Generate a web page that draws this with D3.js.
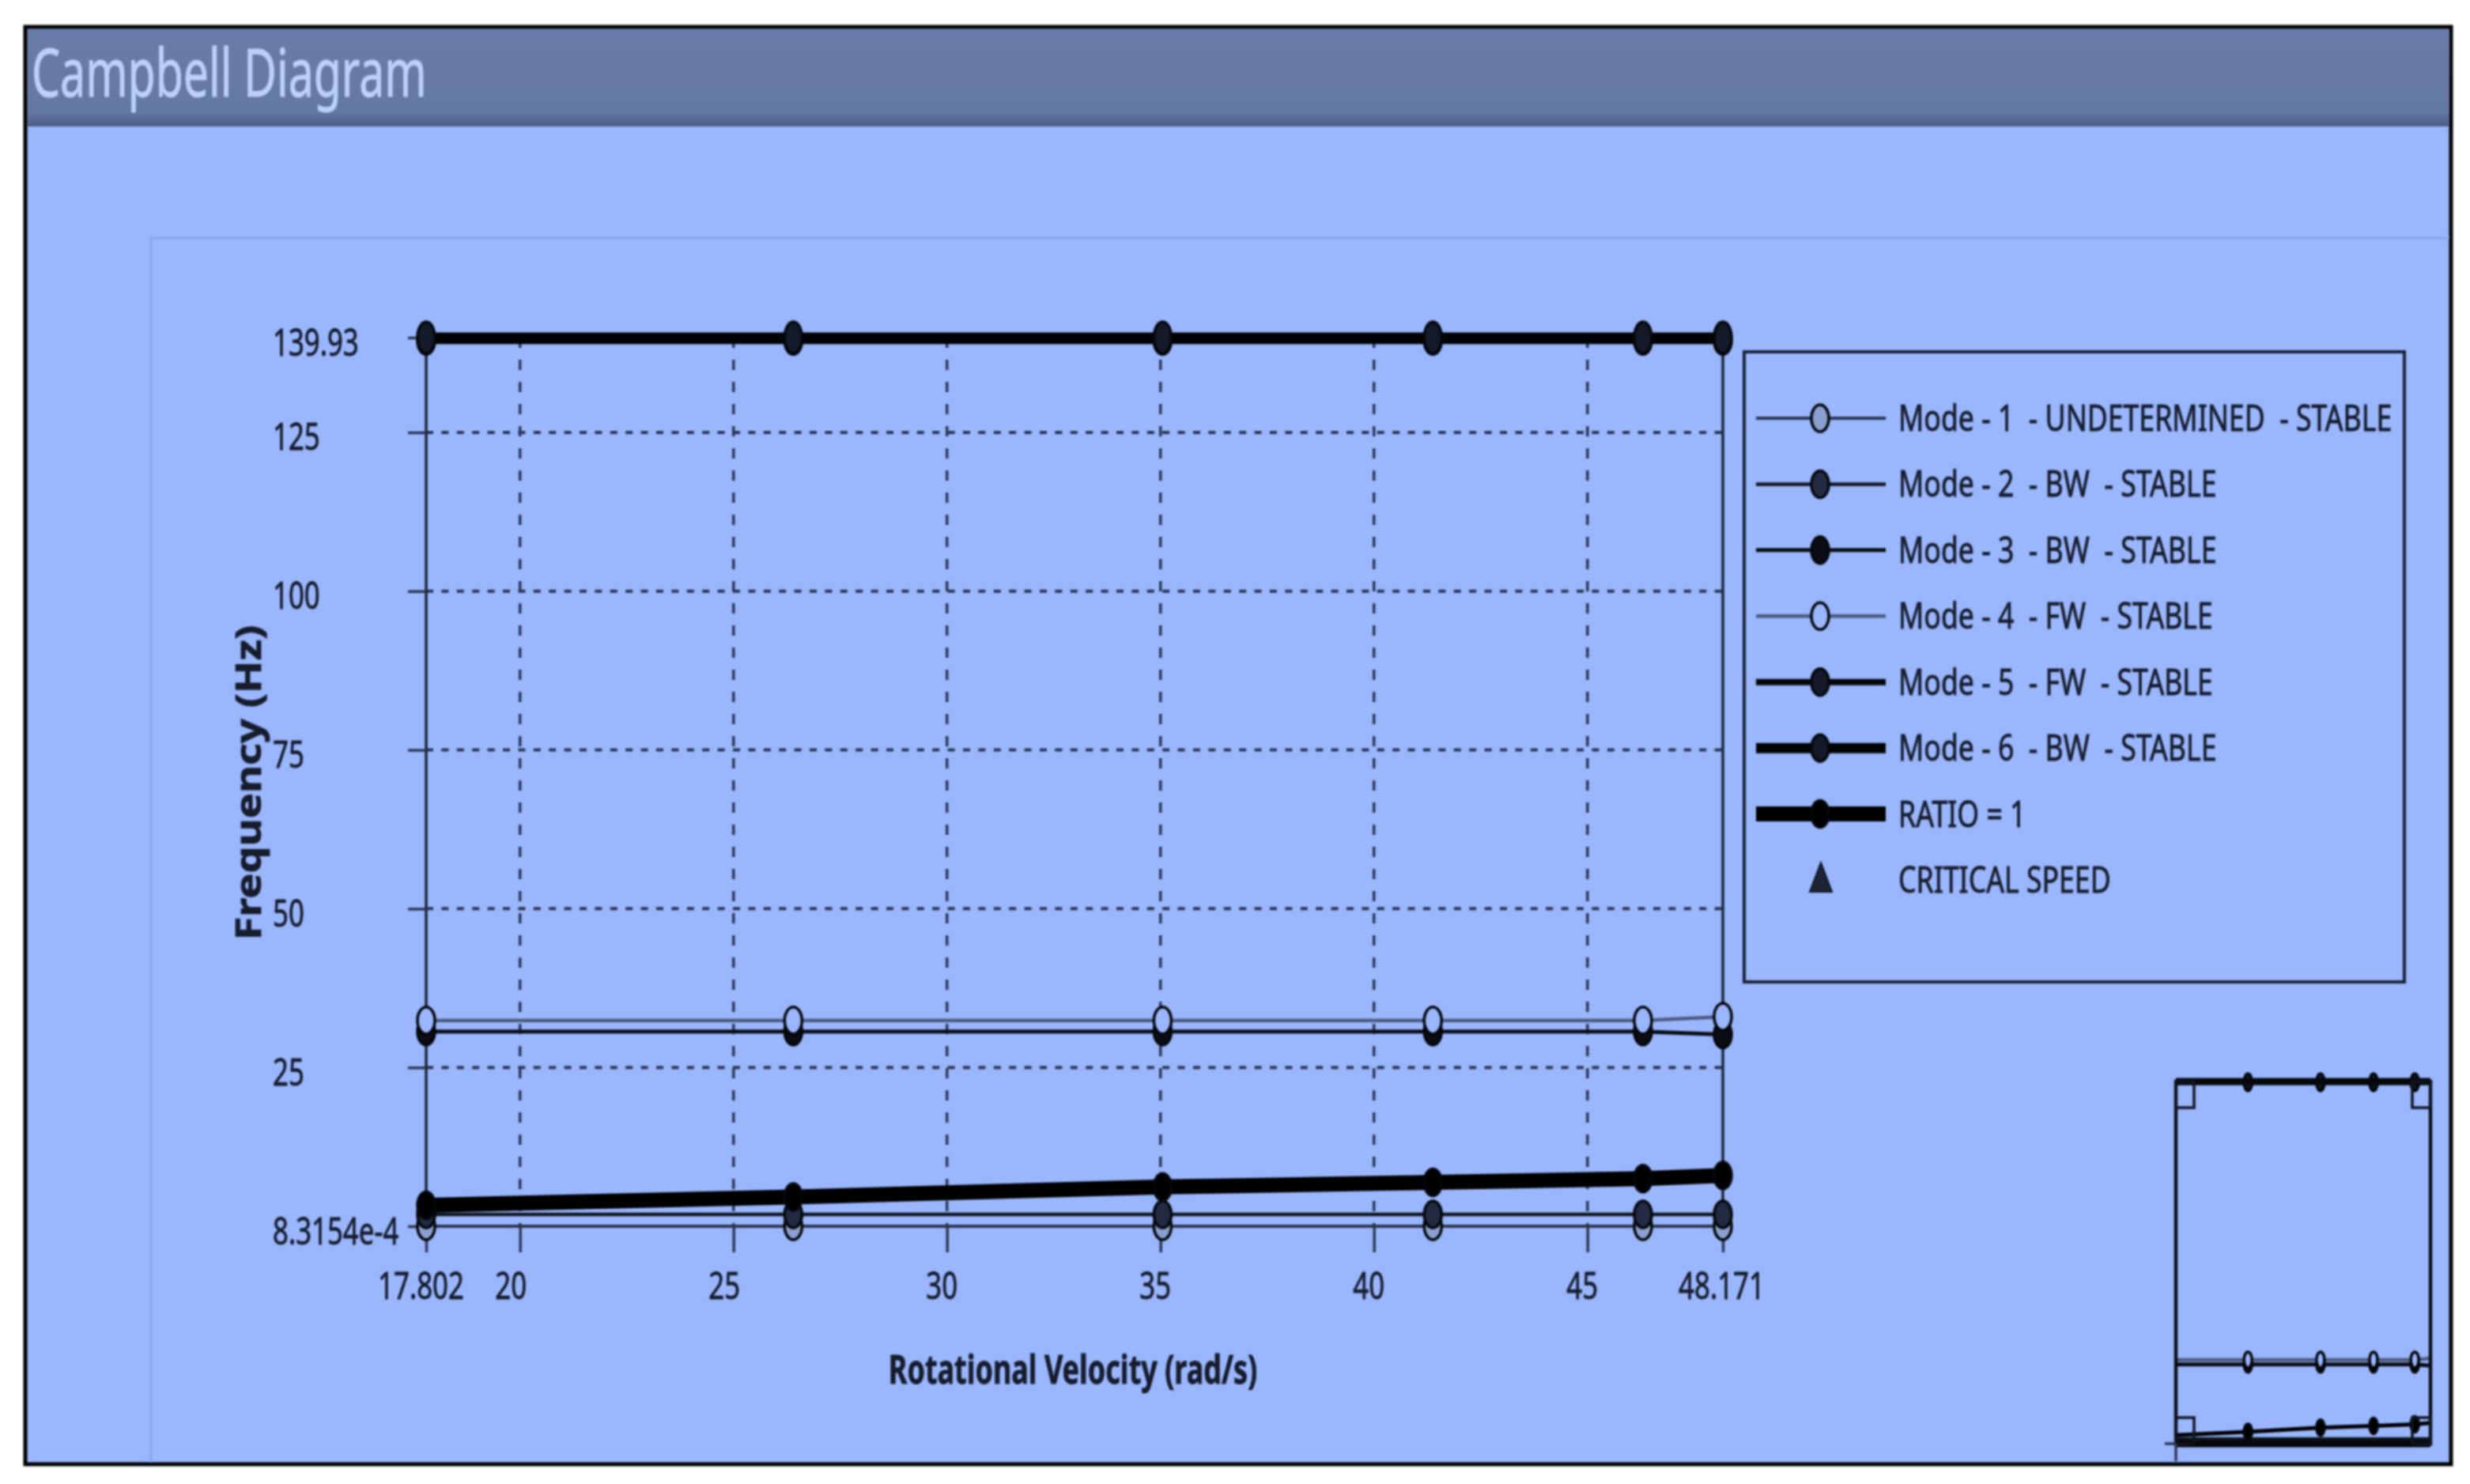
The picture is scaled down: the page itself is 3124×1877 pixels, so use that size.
<!DOCTYPE html>
<html lang="en">
<head>
<meta charset="UTF-8">
<title>Campbell Diagram</title>
<script src="https://d3js.org/d3.v7.min.js"></script>
<style>
    html, body { margin: 0; padding: 0; background: #fff; }
    svg { display: block; }
    text { font-family: "Noto Sans", sans-serif; fill: #161c2c; stroke: #161c2c; stroke-width: 0.8px; white-space: pre; }
    .soft { filter: blur(1.1px); }
</style>
</head>
<body>
<svg id="chart" width="3124" height="1877"></svg>
<script>
// values
const speeds = [17.802, 26.4, 35.05, 41.38, 46.3, 48.171];
const mode1 = [0.00083, 0.00083, 0.00083, 0.00083, 0.00083, 0.00083];
const mode2 = [1.87, 1.87, 1.87, 1.87, 1.87, 1.87];
const mode3 = [30.66, 30.66, 30.66, 30.66, 30.66, 30.2];
const mode4 = [32.4, 32.4, 32.4, 32.4, 32.4, 33.0];
const mode5 = [139.4, 139.4, 139.4, 139.4, 139.4, 139.4];
const mode6 = [139.93, 139.93, 139.93, 139.93, 139.93, 139.93];
const ratio1 = [3.3, 4.6, 6.2, 6.9, 7.5, 8.0];

const xTicks = [17.802, 20, 25, 30, 35, 40, 45, 48.171];
const xTickLabels = ["17.802", "20", "25", "30", "35", "40", "45", "48.171"];
const yTicks = [0.00083154, 25, 50, 75, 100, 125, 139.93];
const yTickLabels = ["8.3154e-4", "25", "50", "75", "100", "125", "139.93"];

const seriesNames = ["Mode - 1  - UNDETERMINED  - STABLE", "Mode - 2  - BW  - STABLE", "Mode - 3  - BW  - STABLE",
    "Mode - 4  - FW  - STABLE", "Mode - 5  - FW  - STABLE", "Mode - 6  - BW  - STABLE", "RATIO = 1"];
const seriesValues = [mode1, mode2, mode3, mode4, mode5, mode6, ratio1];
const seriesWidths = [4, 4.5, 5, 4.5, 8, 13, 19];
const seriesStroke = ["#2b3550", "#10151f", "#0a0d14", "#4c5b80", "#05070b", "#020304", "#000"];
const markerFill = ["#8ba0d0", "#222b42", "#0a0d14", "#9ab6ff", "#141a2a", "#141a2a", "#000"];

const svg = d3.select("#chart");
const bg = "#9ab6fd";
const ink = "#2b3754";
const axisScaleH = 0.74;
const legendScaleH = 0.775;

// page frame
const root = svg.append("g").attr("class", "soft");
root.append("rect").attr("x", 32).attr("y", 34).attr("width", 3068).attr("height", 1818)
    .attr("fill", bg).attr("stroke", "#000").attr("stroke-width", 5);
const grad = svg.append("defs").append("linearGradient").attr("id", "bar").attr("x2", 0).attr("y2", 1);
grad.append("stop").attr("offset", 0).attr("stop-color", "#6a7ca9");
grad.append("stop").attr("offset", 0.85).attr("stop-color", "#6478a6");
grad.append("stop").attr("offset", 1).attr("stop-color", "#4d5d84");
root.append("rect").attr("x", 35).attr("y", 37).attr("width", 3063).attr("height", 123).attr("fill", "url(#bar)");
root.append("path").attr("d", "M191,1850V301H3098").attr("fill", "none").attr("stroke", "#8aa6ea").attr("stroke-width", 3);

root.append("text").text("Campbell Diagram")
    .attr("transform", "translate(40,122) scale(0.68,1)")
    .attr("font-size", 84)
    .style("fill", "#bcd0fb").style("stroke", "#bcd0fb").style("stroke-width", "1px");

// main plot
const x = d3.scaleLinear().domain([17.802, 48.171]).range([539, 2179]);
const y = d3.scaleLinear().domain([0.00083154, 139.93]).range([1551, 427]);

const plot = root.append("g");
plot.append("g").selectAll("line").data(xTicks.slice(1, -1)).join("line")
    .attr("x1", d => x(d)).attr("x2", d => x(d)).attr("y1", y(139.93)).attr("y2", y(0.00083154))
    .attr("stroke", ink).attr("stroke-width", 3.5).attr("stroke-dasharray", "13 15");
plot.append("g").selectAll("line").data(yTicks.slice(1, -1)).join("line")
    .attr("x1", x(17.802)).attr("x2", x(48.171)).attr("y1", d => y(d)).attr("y2", d => y(d))
    .attr("stroke", ink).attr("stroke-width", 4).attr("stroke-dasharray", "9 10.4");
plot.append("g").selectAll("line").data([17.802, 48.171]).join("line")
    .attr("x1", d => x(d)).attr("x2", d => x(d)).attr("y1", y(139.93)).attr("y2", y(0.00083154))
    .attr("stroke", "#1a2236").attr("stroke-width", 3.5);

const xAxis = d3.axisBottom(x).tickValues(xTicks).tickSize(33).tickFormat((d, i) => xTickLabels[i]);
const gx = plot.append("g").attr("transform", `translate(0,${y(0.00083154)})`).call(xAxis);
const yAxis = d3.axisLeft(y).tickValues(yTicks).tickSize(23).tickFormat((d, i) => yTickLabels[i]);
const gy = plot.append("g").attr("transform", `translate(${x(17.802)},0)`).call(yAxis);
gx.select(".domain").remove();
gy.select(".domain").remove();
[gx, gy].forEach(g => g.selectAll("line").attr("stroke", ink).attr("stroke-width", 3.5));
gx.selectAll("text").attr("y", 0).attr("dy", 0).attr("font-size", 47).attr("text-anchor", "middle")
    .attr("transform", d => `translate(${d === 48.171 ? -2 : d === 20 || d === 25 ? -12 : -7},92) scale(${axisScaleH},1)`);
gy.selectAll("text").attr("x", 0).attr("dy", 0).attr("font-size", 47).attr("text-anchor", "start")
    .attr("transform", `translate(-194,22) scale(${axisScaleH},1)`);

// series lines and markers, the same drawing for the plot and the overview
function drawSeries(g, xs, ys, maxWidth, rx, ry, isOverview) {
    seriesValues.forEach((vals, k) => {
        const pts = speeds.map((s, i) => [s, vals[i]]);
        g.append("path").datum(pts)
            .attr("d", d3.line().x(d => xs(d[0])).y(d => ys(d[1])))
            .attr("fill", "none").attr("stroke", seriesStroke[k])
            .attr("stroke-width", Math.min(seriesWidths[k], maxWidth));
        // the overview hides the two lowest modes in its bottom edge and clips the end markers
        if (isOverview && k < 2) return;
        g.append("g").selectAll("ellipse").data(isOverview ? pts.slice(1, -1) : pts).join("ellipse")
            .attr("cx", d => xs(d[0])).attr("cy", d => ys(d[1]))
            .attr("rx", rx).attr("ry", k === 5 && !isOverview ? ry + 3 : ry)
            .attr("fill", markerFill[k]).attr("stroke", "#05070b").attr("stroke-width", 3.5);
    });
}
drawSeries(plot.append("g"), x, y, 100, 11, 17, false);

// axis titles
root.append("text").text("Frequency (Hz)")
    .attr("transform", "translate(330,990) rotate(-90) scale(1.2,1)")
    .attr("font-size", 45).attr("font-weight", 700).attr("text-anchor", "middle");
root.append("text").text("Rotational Velocity (rad/s)")
    .attr("transform", "translate(1357,1750) scale(0.72,1)")
    .attr("font-size", 50).attr("font-weight", 700).attr("text-anchor", "middle");

// legend
const legend = root.append("g");
legend.append("rect").attr("x", 2206).attr("y", 445).attr("width", 835).attr("height", 797)
    .attr("fill", "none").attr("stroke", "#1a2236").attr("stroke-width", 4);
const rowY = d3.scaleLinear().domain([0, 7]).range([529, 1113]);
seriesNames.forEach((name, k) => {
    const row = legend.append("g").attr("transform", `translate(0,${rowY(k)})`);
    row.append("line").attr("x1", 2221).attr("x2", 2385)
        .attr("stroke", seriesStroke[k]).attr("stroke-width", seriesWidths[k]);
    row.append("ellipse").attr("cx", 2302).attr("rx", 11).attr("ry", 17)
        .attr("fill", markerFill[k]).attr("stroke", "#05070b").attr("stroke-width", 3.5);
    row.append("text").text(name).attr("font-size", 46)
        .attr("transform", `translate(2401,16) scale(${legendScaleH},1)`);
});
const critical = legend.append("g").attr("transform", `translate(0,${rowY(7)})`);
critical.append("path").attr("d", "M2303,-22L2317,15H2289Z").attr("fill", "#1c2436").attr("stroke", "#10151f").attr("stroke-width", 2);
critical.append("text").text("CRITICAL SPEED").attr("font-size", 46)
    .attr("transform", `translate(2401,16) scale(${legendScaleH},1)`);

// overview thumbnail
const xMini = d3.scaleLinear().domain([17.802, 48.171]).range([2752, 3074]);
const yMini = d3.scaleLinear().domain([0.00083154, 139.93]).range([1826, 1368]);
const mini = root.append("g");
drawSeries(mini, xMini, yMini, 5, 5, 10, true);
mini.append("rect").attr("x", xMini(17.802)).attr("y", yMini(139.93))
    .attr("width", xMini(48.171) - xMini(17.802)).attr("height", yMini(0.00083154) - yMini(139.93))
    .attr("fill", "none").attr("stroke", "#0a0d14").attr("stroke-width", 4.5);
mini.append("g").selectAll("line").data([0.00083154, 139.93]).join("line")
    .attr("x1", xMini(17.802)).attr("x2", xMini(48.171)).attr("y1", d => yMini(d)).attr("y2", d => yMini(d))
    .attr("stroke", "#05070b").attr("stroke-width", 9);
mini.append("g").selectAll("rect").data(d3.cross([17.802, 48.171], [0.00083154, 139.93])).join("rect")
    .attr("x", d => d[0] === 17.802 ? xMini(d[0]) : xMini(d[0]) - 23)
    .attr("y", d => d[1] === 139.93 ? yMini(d[1]) : yMini(d[1]) - 33)
    .attr("width", 23).attr("height", 33).attr("fill", "none").attr("stroke", "#10151f").attr("stroke-width", 3.5);
mini.append("line").attr("x1", xMini(17.802)).attr("x2", xMini(17.802))
    .attr("y1", yMini(0.00083154)).attr("y2", 1848).attr("stroke", ink).attr("stroke-width", 3.5);
mini.append("line").attr("x1", xMini(17.802) - 14).attr("x2", xMini(17.802))
    .attr("y1", yMini(0.00083154)).attr("y2", yMini(0.00083154)).attr("stroke", ink).attr("stroke-width", 3.5);
</script>
</body>
</html>
